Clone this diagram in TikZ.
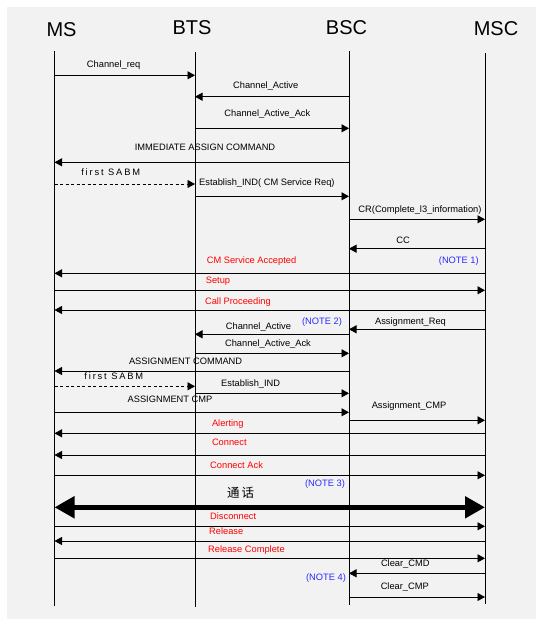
\documentclass[tikz,border=0pt]{standalone}
\usepackage{fontspec}
\setmainfont{Liberation Sans}
\newfontfamily\cjk{Noto Sans CJK SC}
\newfontfamily\spaced[LetterSpace=20]{Liberation Sans}
\usetikzlibrary{arrows.meta}
\definecolor{bgcol}{HTML}{F2F2F2}
\definecolor{notecol}{HTML}{2B2BFF}

\begin{document}
\begin{tikzpicture}[x=1pt, y=-1pt,
  title/.style={font=\fontsize{20}{24}\selectfont, anchor=base, inner sep=0pt},
  lbl/.style={font=\fontsize{9.3}{11}\selectfont, anchor=mid, inner sep=0pt},
  redlbl/.style={lbl, text=red, anchor=mid west},
  note/.style={lbl, text=notecol},
  life/.style={line width=0.9pt},
  arr/.style={-{Triangle[length=7.5pt,width=8pt]}, line width=0.9pt},
  sabm/.style={arr, dash pattern=on 3pt off 2.5pt},
  talk/.style={{Triangle[length=20pt,width=21pt]}-{Triangle[length=20pt,width=21pt]}, line width=5pt}
]
\useasboundingbox (0,0) rectangle (540,622);
\fill[bgcol] (7,7) rectangle (536,619);

\node[title] (ms-title) at (61.5,36) {MS};
\node[title] (bts-title) at (192,34.5) {BTS};
\node[title] (bsc-title) at (346.5,34.5) {BSC};
\node[title] (msc-title) at (496,35) {MSC};

\coordinate (ms) at (54.5,51);   \coordinate (ms-end) at (54.5,606);
\coordinate (bts) at (195,52);   \coordinate (bts-end) at (195,607);
\coordinate (bsc) at (349,51);   \coordinate (bsc-end) at (349,605);
\coordinate (msc) at (485,53);   \coordinate (msc-end) at (485,604);
\draw[life] (ms) -- (ms-end);
\draw[life] (bts) -- (bts-end);
\draw[life] (bsc) -- (bsc-end);
\draw[life] (msc) -- (msc-end);

\draw[arr] (ms |- 0,75.3) -- (bts |- 0,75.3);
\node[lbl] (chreq) at (113.6,65) {Channel\_req};
\draw[arr] (bsc |- 0,96.7) -- (bts |- 0,96.7);
\node[lbl] (chact) at (265.7,85.7) {Channel\_Active};
\draw[arr] (bts |- 0,128.3) -- (bsc |- 0,128.3);
\node[lbl] (chack) at (267.4,114.3) {Channel\_Active\_Ack};
\draw[arr] (bsc |- 0,162.3) -- (ms |- 0,162.3);
\node[lbl] (imm) at (205,148.3) {IMMEDIATE ASSIGN COMMAND};
\draw[sabm] (ms |- 0,184) -- (bts |- 0,184);
\node[lbl] (sabm1) at (110.7,173.3) {\spaced first SABM};
\draw[arr] (bts |- 0,196.3) -- (bsc |- 0,196.3);
\node[lbl] (estcm) at (266.9,182.7) {Establish\_IND( CM Service Req)};
\draw[arr] (bsc |- 0,219.3) -- (msc |- 0,219.3);
\node[lbl] (cr) at (420,210) {CR(Complete\_l3\_information)};
\draw[arr] (msc |- 0,248.7) -- (bsc |- 0,248.7);
\node[lbl] (cc) at (403,241) {CC};
\draw[arr] (msc |- 0,273.3) -- (ms |- 0,273.3);
\node[redlbl] (cmacc) at (206.6,261) {CM Service Accepted};
\node[note] (note1) at (458.8,261) {(NOTE 1)};
\draw[arr] (ms |- 0,290.3) -- (msc |- 0,290.3);
\node[redlbl] (setup) at (205.6,280.7) {Setup};
\draw[arr] (msc |- 0,310) -- (ms |- 0,310);
\node[redlbl] (callproc) at (204.9,301.7) {Call Proceeding};
\draw[arr] (msc |- 0,329.3) -- (bsc |- 0,329.3);
\node[lbl] (assreq) at (410.5,321.7) {Assignment\_Req};
\node[note] (note2) at (322,322) {(NOTE 2)};
\draw[arr] (bsc |- 0,334.3) -- (bts |- 0,334.3);
\node[lbl] (chact2) at (258.5,326.7) {Channel\_Active};
\draw[arr] (bts |- 0,353.3) -- (bsc |- 0,353.3);
\node[lbl] (chack2) at (268,343.7) {Channel\_Active\_Ack};
\draw[arr] (bsc |- 0,371) -- (ms |- 0,371);
\node[lbl] (asscmd) at (185.6,361.7) {ASSIGNMENT COMMAND};
\draw[sabm] (ms |- 0,386.3) -- (bts |- 0,386.3);
\node[lbl] (sabm2) at (113.8,376.7) {\spaced first SABM};
\draw[arr] (bts |- 0,393.3) -- (bsc |- 0,393.3);
\node[lbl] (est) at (250.7,383.7) {Establish\_IND};
\draw[arr] (ms |- 0,412.3) -- (bsc |- 0,412.3);
\node[lbl] (asscmp) at (170,400) {ASSIGNMENT CMP};
\draw[arr] (bsc |- 0,420.3) -- (msc |- 0,420.3);
\node[lbl] (asscmp2) at (409,405.7) {Assignment\_CMP};
\draw[arr] (msc |- 0,433.3) -- (ms |- 0,433.3);
\node[redlbl] (alert) at (211.8,423.7) {Alerting};
\draw[arr] (msc |- 0,455) -- (ms |- 0,455);
\node[redlbl] (conn) at (211.8,443.3) {Connect};
\draw[arr] (ms |- 0,475.3) -- (msc |- 0,475.3);
\node[redlbl] (connack) at (210,465.7) {Connect Ack};
\node[note] (note3) at (325,483.7) {(NOTE 3)};
\draw[talk] (ms |- 0,507.3) -- (msc |- 0,507.3);
\node[lbl, font=\cjk\fontsize{12.5}{14}\selectfont] (call) at (240.7,495) {通\hspace{2pt}话};
\draw[arr] (ms |- 0,526.3) -- (msc |- 0,526.3);
\node[redlbl] (disc) at (210,516.7) {Disconnect};
\draw[arr] (msc |- 0,541) -- (ms |- 0,541);
\node[redlbl] (rel) at (209,531.7) {Release};
\draw[arr] (ms |- 0,558.3) -- (msc |- 0,558.3);
\node[redlbl] (relcmp) at (208,549.7) {Release Complete};
\draw[arr] (msc |- 0,573.3) -- (bsc |- 0,573.3);
\node[lbl] (clrcmd) at (405.3,564.3) {Clear\_CMD};
\node[note] (note4) at (326,578.3) {(NOTE 4)};
\draw[arr] (bsc |- 0,597) -- (msc |- 0,597);
\node[lbl] (clrcmp) at (404.8,586.7) {Clear\_CMP};
\end{tikzpicture}
\end{document}
